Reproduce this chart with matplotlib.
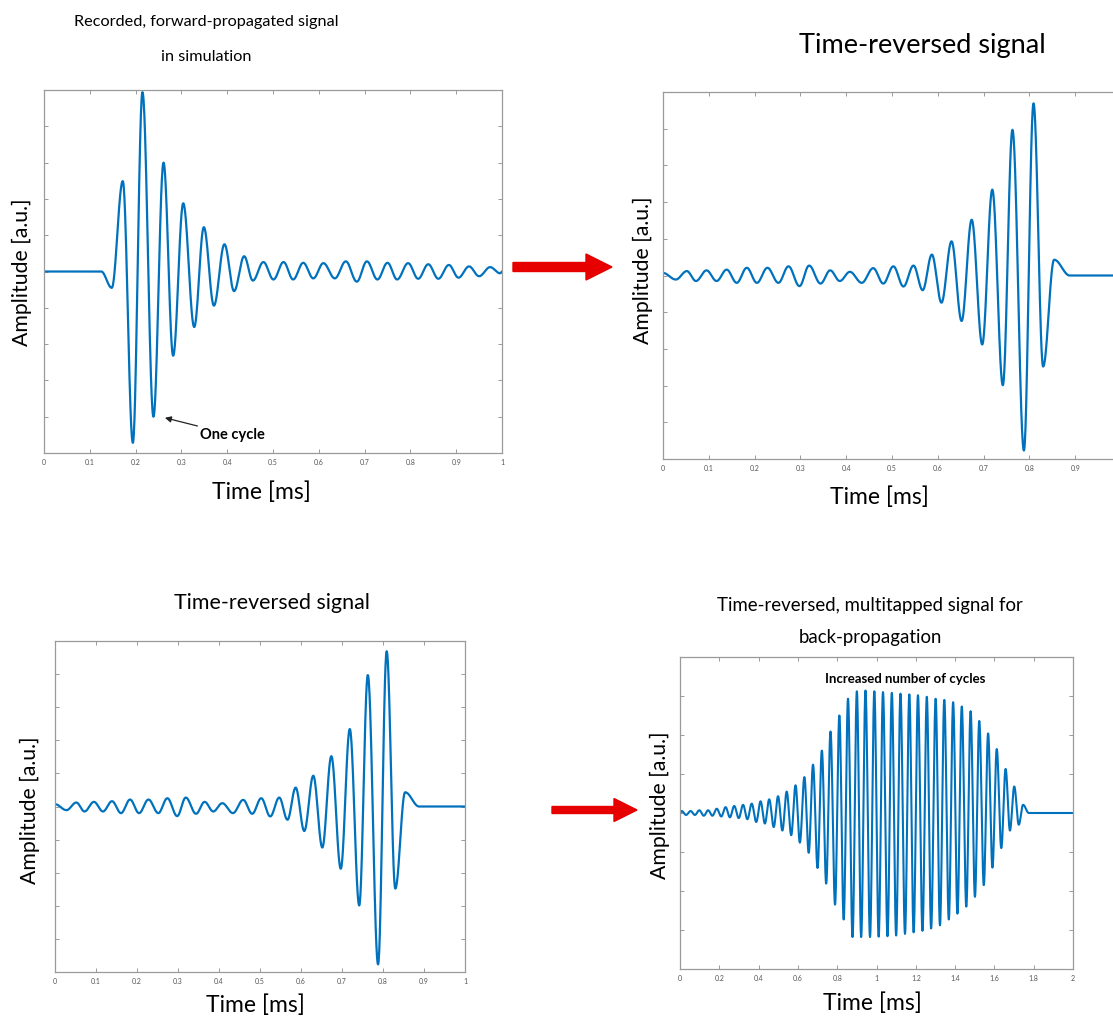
import numpy as np
import matplotlib
matplotlib.use("Agg")
import matplotlib.pyplot as plt
from matplotlib.patches import FancyArrow

plt.rcParams['font.family'] = ['Lato', 'DejaVu Sans']

# extrema of the recorded (forward-propagated) signal, time in ms
fwd_t = [0, 0.125, 0.148, 0.172, 0.194, 0.215, 0.239, 0.261, 0.282, 0.304,
         0.328, 0.349, 0.371, 0.394, 0.415, 0.437, 0.456, 0.479, 0.501, 0.523,
         0.544, 0.566, 0.588, 0.61, 0.635, 0.659, 0.683, 0.705, 0.728, 0.75,
         0.771, 0.795, 0.817, 0.839, 0.861, 0.884, 0.905, 0.928, 0.95, 0.974,
         0.996]
fwd_v = [0, 0, -0.45, 2.49, -4.72, 4.94, -4.0, 3.0, -2.32, 1.88,
         -1.53, 1.22, -0.94, 0.75, -0.54, 0.42, -0.25, 0.26, -0.22, 0.26,
         -0.22, 0.24, -0.19, 0.23, -0.19, 0.28, -0.28, 0.28, -0.22, 0.24,
         -0.22, 0.23, -0.2, 0.2, -0.2, 0.18, -0.17, 0.14, -0.13, 0.12,
         -0.05]

# extrema of the time-reversed signal
rev_t = [0, 0.028, 0.052, 0.072, 0.095, 0.117, 0.139, 0.161, 0.183, 0.205,
         0.228, 0.252, 0.274, 0.298, 0.319, 0.344, 0.365, 0.386, 0.408, 0.434,
         0.459, 0.481, 0.503, 0.525, 0.547, 0.567, 0.587, 0.608, 0.63, 0.652,
         0.674, 0.697, 0.719, 0.742, 0.763, 0.788, 0.809, 0.83, 0.854, 0.888,
         1.0]
rev_v = [0.07, -0.11, 0.12, -0.15, 0.14, -0.15, 0.16, -0.2, 0.21, -0.2,
         0.21, -0.2, 0.25, -0.29, 0.27, -0.22, 0.14, -0.15, 0.1, -0.2,
         0.2, -0.22, 0.25, -0.3, 0.27, -0.4, 0.57, -0.74, 0.93, -1.24,
         1.52, -1.88, 2.34, -2.99, 3.97, -4.77, 4.69, -2.48, 0.43, 0,
         0]

# multitapped signal: positive peaks and troughs
mt_peak_t = [0.009, 0.054, 0.098, 0.143, 0.187, 0.232, 0.276, 0.321, 0.365, 0.410,
             0.454, 0.499, 0.543, 0.588, 0.633, 0.677, 0.722, 0.766, 0.811, 0.855,
             0.900, 0.944, 0.989, 1.033, 1.078, 1.122, 1.167, 1.211, 1.256, 1.301,
             1.345, 1.390, 1.434, 1.479, 1.523, 1.568, 1.612, 1.657, 1.701, 1.746]
mt_peak_v = [0.05, 0.05, 0.07, 0.07, 0.11, 0.15, 0.18, 0.21, 0.24, 0.30,
             0.35, 0.43, 0.55, 0.71, 0.92, 1.24, 1.60, 2.09, 2.50, 2.93,
             3.12, 3.14, 3.12, 3.10, 3.08, 3.06, 3.04, 3.02, 2.98, 2.93,
             2.90, 2.84, 2.73, 2.61, 2.36, 2.04, 1.64, 1.13, 0.68, 0.21]
mt_trough_t = [0.031, 0.076, 0.121, 0.165, 0.210, 0.254, 0.299, 0.343, 0.388, 0.432,
               0.477, 0.521, 0.566, 0.610, 0.655, 0.700, 0.744, 0.789, 0.833, 0.878,
               0.922, 0.967, 1.011, 1.056, 1.100, 1.145, 1.189, 1.234, 1.278, 1.323,
               1.368, 1.412, 1.457, 1.501, 1.546, 1.590, 1.635, 1.679, 1.724]
mt_trough_v = [-0.05, -0.05, -0.07, -0.07, -0.09, -0.11, -0.13, -0.16, -0.23, -0.27,
               -0.36, -0.45, -0.57, -0.76, -1.02, -1.41, -1.81, -2.35, -2.73, -3.18,
               -3.18, -3.18, -3.17, -3.16, -3.14, -3.10, -3.06, -3.02, -2.96, -2.88,
               -2.73, -2.58, -2.40, -2.15, -1.85, -1.40, -0.90, -0.45, -0.30]
mt_edge_t = [0.0, 1.775, 2.0]
mt_edge_v = [0.0, 0.0, 0.0]

x_ticks_1ms = [0, 0.1, 0.2, 0.3, 0.4, 0.5, 0.6, 0.7, 0.8, 0.9, 1]
x_labels_1ms = ['0', '0.1', '0.2', '0.3', '0.4', '0.5', '0.6', '0.7', '0.8', '0.9', '1']
x_ticks_2ms = [0, 0.2, 0.4, 0.6, 0.8, 1, 1.2, 1.4, 1.6, 1.8, 2]
x_labels_2ms = ['0', '0.2', '0.4', '0.6', '0.8', '1', '1.2', '1.4', '1.6', '1.8', '2']

W, H = 1113, 1017
BLUE = '#0072BD'
RED = '#e60000'


def box(l, t, r, b):
    return [l / W, 1 - b / H, (r - l) / W, (b - t) / H]


def smooth(ts, vs, n=30):
    # half-cosine between successive extrema
    xs, ys = [], []
    for i in range(len(ts) - 1):
        s = np.linspace(0, 1, n, endpoint=False)
        xs.append(ts[i] + (ts[i + 1] - ts[i]) * s)
        ys.append(vs[i] + (vs[i + 1] - vs[i]) * (1 - np.cos(np.pi * s)) / 2)
    xs.append([ts[-1]])
    ys.append([vs[-1]])
    return np.concatenate(xs), np.concatenate(ys)


def style(ax, xt, xl, xmax, ylim):
    ax.set_xlim(0, xmax)
    ax.set_ylim(-ylim, ylim)
    ax.set_xticks(xt)
    ax.set_xticklabels(xl)
    ax.set_yticks(np.arange(-ylim + 1, ylim))
    ax.set_yticklabels([])
    ax.tick_params(direction='in', length=3, width=0.6, colors='#8a8a8a',
                   labelsize=5, labelcolor='#555555', top=True, right=True, pad=4)
    for sp in ax.spines.values():
        sp.set_color('#9a9a9a')
        sp.set_linewidth(0.9)


def ftext(x, y, s, size, **kw):
    fig.text(x / W, 1 - y / H, s, fontsize=size, ha='center', va='center', **kw)


fig = plt.figure(figsize=(W / 100, H / 100), dpi=100)

ax1 = fig.add_axes(box(44, 90, 502, 453))
x, y = smooth(fwd_t + [1.0], fwd_v + [0.0])
ax1.plot(x, y, color=BLUE, lw=1.6)
style(ax1, x_ticks_1ms, x_labels_1ms, 1, 5)
ax1.annotate('One cycle', xy=(0.264, -4.03), xytext=(0.341, -4.5),
             fontsize=10.5, fontweight='bold', va='center', ha='left',
             arrowprops=dict(arrowstyle='-|>', color='#222222', lw=0.9,
                             mutation_scale=9, shrinkA=0, shrinkB=0))

# right edge of this panel runs off the picture, as in the original
ax2 = fig.add_axes(box(663, 92, 1121, 459))
x, y = smooth(rev_t, rev_v)
ax2.plot(x, y, color=BLUE, lw=1.6)
style(ax2, x_ticks_1ms, x_labels_1ms[:-1] + [''], 1, 5)

ax3 = fig.add_axes(box(55, 641, 465, 972))
ax3.plot(x, y, color=BLUE, lw=1.6)
style(ax3, x_ticks_1ms, x_labels_1ms, 1, 5)

ax4 = fig.add_axes(box(680, 657, 1073, 969))
mt = sorted(zip(mt_peak_t + mt_trough_t + mt_edge_t,
                mt_peak_v + mt_trough_v + mt_edge_v))
x4, y4 = smooth([p[0] for p in mt], [p[1] for p in mt], n=20)
ax4.plot(x4, y4, color=BLUE, lw=1.5)
style(ax4, x_ticks_2ms, x_labels_2ms, 2, 4)
ax4.text(1.145, 3.44, 'Increased number of cycles', fontsize=9.5,
         fontweight='bold', ha='center', va='center')

# titles
ftext(206, 22, 'Recorded, forward-propagated signal', 11.7)
ftext(206, 57, 'in simulation', 11.7)
ftext(922, 45, 'Time-reversed signal', 19.5)
ftext(272, 603, 'Time-reversed signal', 15.4)
ftext(870, 606, 'Time-reversed, multitapped signal for', 13.4)
ftext(870, 638, 'back-propagation', 13.4)

# axis labels
for (xx, yy) in [(261, 492), (879, 497), (255, 1005), (872, 1003)]:
    ftext(xx, yy, 'Time [ms]', 16.5)
for (xx, yy) in [(22, 272), (643, 270), (30, 810), (660, 805)]:
    ftext(xx, yy, 'Amplitude [a.u.]', 15.3, rotation=90)

# red arrows between panels
fig.patches.append(FancyArrow(513 / W, 1 - 267 / H, (612 - 513) / W, 0,
                              width=9 / H, head_width=26 / H, head_length=26 / W,
                              length_includes_head=True, color=RED,
                              transform=fig.transFigure, figure=fig))
fig.patches.append(FancyArrow(552 / W, 1 - 810 / H, (637 - 552) / W, 0,
                              width=7 / H, head_width=23 / H, head_length=23 / W,
                              length_includes_head=True, color=RED,
                              transform=fig.transFigure, figure=fig))

plt.savefig('out.png', dpi=100)
